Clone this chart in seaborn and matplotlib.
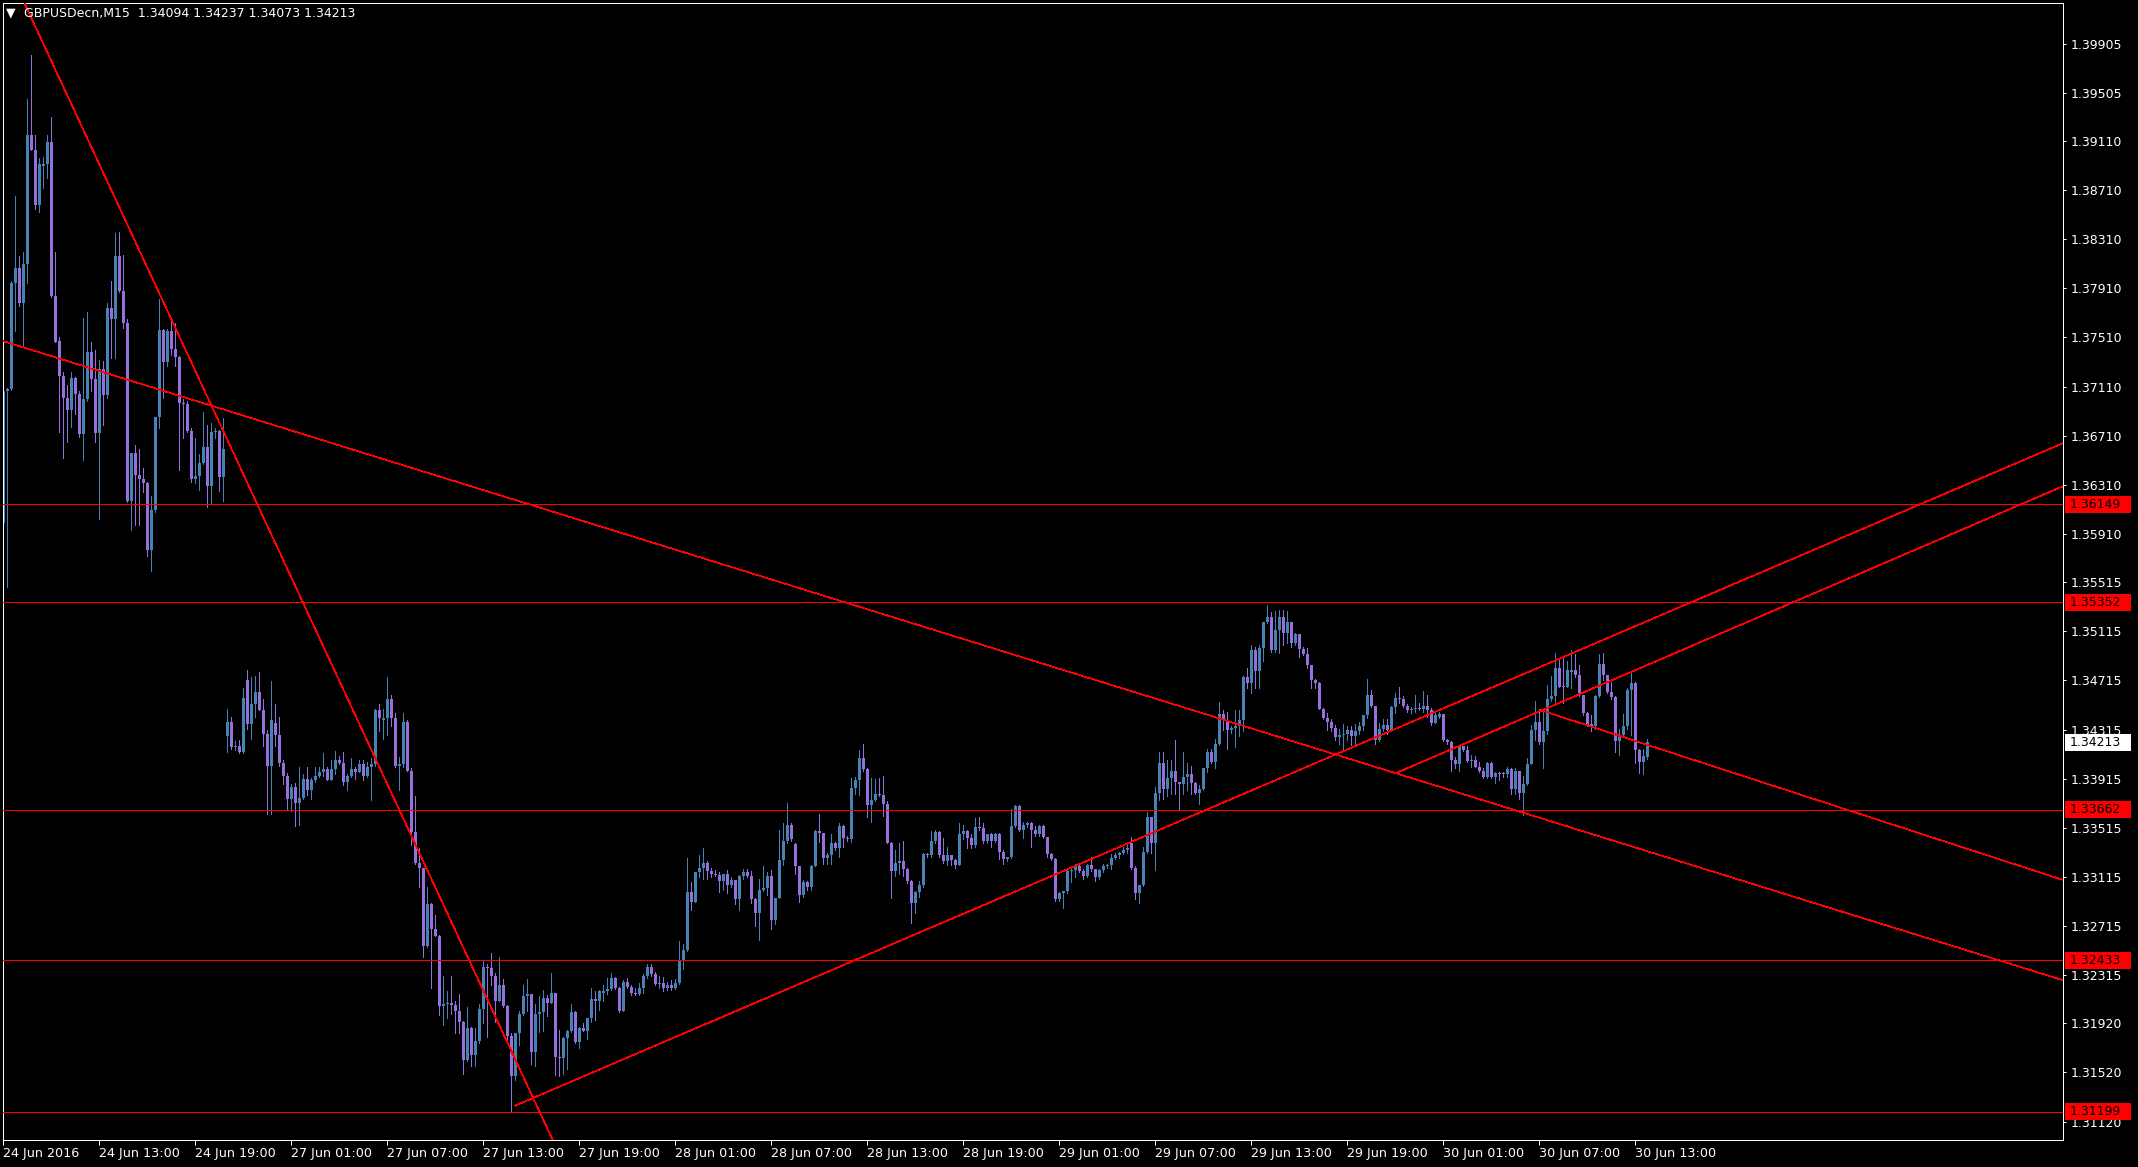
import numpy as np
import pandas as pd
import seaborn as sns
import matplotlib
matplotlib.use("Agg")
import matplotlib.pyplot as plt
import matplotlib.patches as mpatches
import matplotlib.transforms as mtransforms

# GBPUSD M15 candles, one per bar, 24 Jun 2016 07:00 -> 30 Jun 2016 13:45
# values are pips above 1.0000  (price = 1 + value / 10000)
open_pips = [
    3600, 3707, 3709, 3795, 3808, 3779, 3811, 3916, 3904, 3859,
    3891, 3892, 3910, 3785, 3748, 3720, 3702, 3692, 3718, 3705,
    3672, 3701, 3739, 3717, 3673, 3725, 3704, 3775, 3766, 3817,
    3789, 3763, 3618, 3657, 3639, 3636, 3632, 3578, 3610, 3686,
    3757, 3731, 3756, 3742, 3735, 3698, 3697, 3675, 3636, 3638,
    3649, 3662, 3630, 3674, 3675, 3637, 3426, 3438, 3417, 3418,
    3413, 3472, 3436, 3452, 3462, 3447, 3428, 3402, 3437, 3427,
    3404, 3394, 3375, 3385, 3372, 3376, 3391, 3382, 3390, 3394,
    3397, 3399, 3390, 3399, 3407, 3404, 3389, 3394, 3399, 3397,
    3403, 3394, 3401, 3403, 3447, 3439, 3441, 3456, 3441, 3402,
    3403, 3438, 3398, 3348, 3323, 3319, 3255, 3289, 3269, 3263,
    3206, 3208, 3209, 3207, 3202, 3193, 3162, 3188, 3166, 3178,
    3204, 3238, 3237, 3231, 3210, 3223, 3206, 3182, 3149, 3184,
    3200, 3214, 3216, 3169, 3200, 3201, 3213, 3209, 3217, 3165,
    3164, 3180, 3186, 3201, 3177, 3188, 3186, 3196, 3212, 3210,
    3217, 3218, 3220, 3229, 3221, 3202, 3226, 3222, 3217, 3216,
    3221, 3231, 3238, 3232, 3224, 3225, 3221, 3223, 3221, 3225,
    3244, 3252, 3299, 3291, 3315, 3319, 3323, 3316, 3314, 3313,
    3308, 3314, 3305, 3309, 3293, 3312, 3315, 3312, 3293, 3282,
    3301, 3302, 3312, 3276, 3294, 3325, 3341, 3354, 3338, 3320,
    3297, 3307, 3303, 3320, 3349, 3347, 3327, 3329, 3339, 3335,
    3353, 3343, 3342, 3384, 3390, 3408, 3399, 3370, 3374, 3379,
    3378, 3371, 3339, 3316, 3323, 3324, 3318, 3308, 3290, 3299,
    3305, 3330, 3329, 3341, 3348, 3329, 3324, 3329, 3325, 3321,
    3346, 3349, 3343, 3337, 3352, 3351, 3341, 3346, 3341, 3346,
    3332, 3326, 3328, 3353, 3369, 3350, 3354, 3355, 3350, 3346,
    3353, 3344, 3330, 3326, 3293, 3298, 3300, 3316, 3317, 3320,
    3316, 3312, 3321, 3318, 3311, 3317, 3320, 3321, 3327, 3329,
    3331, 3333, 3339, 3319, 3298, 3305, 3332, 3360, 3339, 3380,
    3404, 3383, 3392, 3398, 3389, 3387, 3393, 3395, 3388, 3380,
    3383, 3400, 3413, 3405, 3420, 3444, 3439, 3431, 3433, 3434,
    3439, 3474, 3469, 3496, 3479, 3498, 3519, 3523, 3496, 3513,
    3523, 3510, 3519, 3502, 3509, 3497, 3493, 3484, 3472, 3469,
    3448, 3441, 3438, 3433, 3425, 3427, 3428, 3431, 3426, 3430,
    3434, 3443, 3460, 3451, 3423, 3432, 3435, 3431, 3450, 3457,
    3456, 3451, 3447, 3448, 3449, 3448, 3451, 3447, 3437, 3442,
    3444, 3423, 3421, 3407, 3403, 3418, 3415, 3406, 3407, 3401,
    3398, 3393, 3404, 3393, 3396, 3396, 3395, 3399, 3383, 3398,
    3380, 3387, 3403, 3431, 3438, 3421, 3430, 3456, 3459, 3482,
    3467, 3466, 3478, 3480, 3476, 3460, 3445, 3436, 3434, 3459,
    3485, 3476, 3462, 3458, 3422, 3427, 3434, 3464, 3469, 3415,
    3405, 3409.4,
]
high_pips = [
    3710, 3710, 3797, 3866, 3817, 3821, 3945, 3981, 3916, 3897,
    3898, 3916, 3931, 3821, 3751, 3723, 3712, 3723, 3719, 3707,
    3767, 3772, 3747, 3741, 3733, 3732, 3779, 3797, 3836, 3837,
    3818, 3766, 3657, 3663, 3660, 3645, 3633, 3622, 3686, 3782,
    3758, 3758, 3764, 3763, 3736, 3701, 3699, 3677, 3669, 3656,
    3690, 3680, 3681, 3677, 3676, 3685, 3448, 3442, 3422, 3423,
    3465, 3480, 3474, 3475, 3478, 3456, 3431, 3471, 3452, 3442,
    3407, 3396, 3387, 3388, 3401, 3395, 3401, 3392, 3401, 3401,
    3412, 3401, 3407, 3414, 3410, 3413, 3395, 3408, 3401, 3407,
    3407, 3405, 3408, 3448, 3452, 3448, 3474, 3460, 3445, 3409,
    3445, 3439, 3400, 3377, 3335, 3319, 3303, 3290, 3280, 3264,
    3231, 3218, 3231, 3210, 3216, 3194, 3205, 3189, 3188, 3208,
    3243, 3240, 3249, 3233, 3246, 3228, 3207, 3184, 3184, 3202,
    3223, 3228, 3216, 3208, 3214, 3219, 3215, 3233, 3217, 3187,
    3181, 3187, 3208, 3202, 3189, 3192, 3196, 3221, 3218, 3219,
    3223, 3229, 3233, 3230, 3222, 3227, 3229, 3223, 3221, 3225,
    3232, 3240, 3240, 3234, 3231, 3230, 3226, 3227, 3228, 3259,
    3257, 3327, 3307, 3315, 3329, 3335, 3324, 3319, 3317, 3315,
    3314, 3317, 3311, 3309, 3313, 3318, 3318, 3316, 3294, 3310,
    3320, 3315, 3317, 3294, 3350, 3355, 3372, 3355, 3339, 3320,
    3309, 3308, 3321, 3350, 3363, 3347, 3331, 3346, 3340, 3355,
    3354, 3345, 3392, 3393, 3415, 3420, 3400, 3392, 3391, 3392,
    3394, 3373, 3340, 3333, 3339, 3341, 3319, 3309, 3300, 3308,
    3331, 3331, 3349, 3350, 3349, 3343, 3336, 3329, 3326, 3355,
    3354, 3350, 3346, 3359, 3360, 3355, 3346, 3347, 3347, 3347,
    3333, 3328, 3367, 3370, 3370, 3356, 3356, 3356, 3353, 3354,
    3354, 3344, 3331, 3327, 3299, 3300, 3317, 3320, 3322, 3322,
    3318, 3322, 3328, 3318, 3318, 3322, 3322, 3330, 3331, 3332,
    3336, 3337, 3344, 3320, 3305, 3336, 3364, 3360, 3385, 3413,
    3413, 3407, 3407, 3423, 3389, 3413, 3404, 3402, 3389, 3386,
    3400, 3416, 3416, 3424, 3454, 3447, 3446, 3434, 3447, 3447,
    3475, 3482, 3500, 3499, 3500, 3519, 3533, 3527, 3528, 3529,
    3529, 3528, 3519, 3510, 3509, 3499, 3498, 3484, 3473, 3470,
    3449, 3445, 3440, 3435, 3432, 3436, 3434, 3434, 3436, 3438,
    3443, 3473, 3464, 3451, 3437, 3440, 3440, 3451, 3461, 3466,
    3459, 3452, 3450, 3460, 3453, 3463, 3460, 3449, 3446, 3446,
    3444, 3424, 3422, 3409, 3418, 3418, 3418, 3411, 3410, 3405,
    3400, 3405, 3405, 3397, 3397, 3397, 3401, 3400, 3400, 3398,
    3394, 3408, 3435, 3455, 3448, 3447, 3468, 3475, 3494, 3490,
    3490, 3487, 3496, 3493, 3484, 3460, 3446, 3443, 3460, 3493,
    3494, 3476, 3470, 3459, 3432, 3444, 3465, 3478, 3470, 3416,
    3416, 3423.7,
]
low_pips = [
    3598, 3548, 3708, 3756, 3777, 3745, 3795, 3904, 3856, 3853,
    3873, 3881, 3784, 3747, 3674, 3653, 3666, 3678, 3689, 3670,
    3651, 3699, 3707, 3666, 3603, 3680, 3702, 3734, 3734, 3788,
    3759, 3617, 3594, 3598, 3598, 3625, 3573, 3561, 3609, 3677,
    3702, 3728, 3737, 3728, 3643, 3669, 3674, 3633, 3632, 3627,
    3648, 3613, 3616, 3669, 3626, 3618, 3413, 3416, 3415, 3412,
    3412, 3432, 3424, 3442, 3447, 3418, 3363, 3363, 3418, 3402,
    3387, 3366, 3365, 3353, 3354, 3375, 3378, 3375, 3389, 3393,
    3394, 3390, 3390, 3395, 3403, 3386, 3382, 3393, 3391, 3397,
    3390, 3393, 3374, 3402, 3430, 3424, 3427, 3434, 3401, 3382,
    3401, 3398, 3337, 3322, 3303, 3246, 3254, 3221, 3263, 3199,
    3191, 3196, 3200, 3184, 3184, 3151, 3161, 3157, 3157, 3176,
    3192, 3181, 3223, 3193, 3210, 3205, 3176, 3120, 3146, 3174,
    3199, 3202, 3159, 3157, 3185, 3186, 3198, 3209, 3150, 3149,
    3151, 3155, 3185, 3176, 3172, 3186, 3179, 3193, 3195, 3203,
    3210, 3216, 3219, 3220, 3201, 3202, 3221, 3215, 3215, 3215,
    3217, 3229, 3231, 3223, 3221, 3218, 3219, 3219, 3220, 3224,
    3236, 3251, 3284, 3291, 3311, 3310, 3310, 3311, 3312, 3299,
    3301, 3298, 3303, 3289, 3284, 3310, 3311, 3290, 3271, 3260,
    3300, 3297, 3269, 3273, 3294, 3321, 3339, 3341, 3314, 3291,
    3295, 3301, 3301, 3320, 3340, 3322, 3322, 3322, 3333, 3328,
    3336, 3341, 3340, 3379, 3378, 3398, 3360, 3356, 3373, 3377,
    3361, 3339, 3294, 3312, 3314, 3312, 3306, 3274, 3282, 3295,
    3303, 3328, 3328, 3339, 3328, 3323, 3321, 3321, 3319, 3321,
    3342, 3335, 3335, 3336, 3350, 3339, 3339, 3336, 3340, 3326,
    3322, 3324, 3327, 3352, 3349, 3343, 3352, 3336, 3345, 3345,
    3343, 3328, 3325, 3292, 3292, 3286, 3298, 3307, 3311, 3315,
    3310, 3311, 3316, 3308, 3310, 3315, 3319, 3318, 3326, 3327,
    3330, 3331, 3318, 3293, 3290, 3304, 3331, 3331, 3317, 3374,
    3375, 3377, 3379, 3379, 3366, 3379, 3382, 3379, 3379, 3371,
    3382, 3397, 3404, 3400, 3419, 3431, 3416, 3429, 3417, 3426,
    3430, 3465, 3461, 3465, 3465, 3487, 3518, 3495, 3495, 3494,
    3500, 3502, 3499, 3500, 3491, 3492, 3482, 3465, 3465, 3448,
    3440, 3431, 3430, 3423, 3420, 3415, 3423, 3419, 3419, 3428,
    3431, 3441, 3450, 3420, 3422, 3430, 3428, 3430, 3445, 3453,
    3450, 3446, 3445, 3446, 3447, 3446, 3442, 3435, 3437, 3441,
    3422, 3420, 3398, 3400, 3398, 3414, 3405, 3401, 3401, 3397,
    3392, 3392, 3392, 3388, 3390, 3393, 3393, 3379, 3379, 3375,
    3362, 3386, 3403, 3423, 3420, 3400, 3428, 3455, 3454, 3466,
    3453, 3466, 3465, 3474, 3459, 3443, 3434, 3430, 3432, 3458,
    3472, 3461, 3456, 3413, 3411, 3426, 3432, 3427, 3404, 3396,
    3395, 3407.3,
]
close_pips = [
    3707, 3709, 3795, 3808, 3779, 3811, 3916, 3904, 3859, 3892,
    3892, 3910, 3785, 3747, 3720, 3702, 3692, 3718, 3705, 3672,
    3701, 3739, 3717, 3673, 3725, 3704, 3775, 3766, 3817, 3789,
    3763, 3618, 3657, 3639, 3636, 3632, 3578, 3610, 3686, 3757,
    3731, 3756, 3742, 3735, 3698, 3697, 3675, 3636, 3638, 3649,
    3662, 3630, 3674, 3675, 3637, 3660, 3438, 3417, 3418, 3413,
    3457, 3436, 3452, 3462, 3447, 3428, 3402, 3439, 3427, 3404,
    3394, 3375, 3385, 3372, 3376, 3391, 3382, 3390, 3394, 3397,
    3399, 3390, 3399, 3407, 3404, 3389, 3394, 3399, 3397, 3403,
    3394, 3401, 3403, 3447, 3441, 3441, 3456, 3441, 3402, 3403,
    3438, 3398, 3348, 3323, 3319, 3255, 3289, 3269, 3263, 3206,
    3208, 3209, 3207, 3202, 3193, 3162, 3188, 3166, 3178, 3204,
    3238, 3237, 3231, 3210, 3223, 3206, 3182, 3149, 3184, 3200,
    3214, 3216, 3169, 3200, 3201, 3213, 3209, 3217, 3165, 3164,
    3180, 3186, 3201, 3177, 3188, 3186, 3196, 3212, 3210, 3218,
    3218, 3220, 3229, 3221, 3202, 3226, 3222, 3217, 3216, 3221,
    3231, 3238, 3232, 3224, 3225, 3221, 3223, 3221, 3225, 3244,
    3252, 3299, 3291, 3315, 3319, 3323, 3316, 3314, 3313, 3308,
    3314, 3305, 3309, 3293, 3312, 3315, 3312, 3293, 3282, 3301,
    3302, 3312, 3276, 3294, 3325, 3341, 3354, 3342, 3320, 3297,
    3307, 3303, 3320, 3349, 3347, 3327, 3329, 3339, 3335, 3353,
    3343, 3342, 3384, 3390, 3408, 3399, 3370, 3374, 3379, 3378,
    3371, 3339, 3316, 3323, 3324, 3318, 3308, 3290, 3299, 3305,
    3330, 3329, 3341, 3348, 3329, 3324, 3329, 3325, 3321, 3346,
    3349, 3343, 3337, 3352, 3351, 3341, 3346, 3341, 3346, 3332,
    3326, 3328, 3353, 3369, 3350, 3354, 3355, 3350, 3346, 3353,
    3344, 3330, 3326, 3293, 3298, 3300, 3316, 3317, 3320, 3316,
    3312, 3321, 3318, 3311, 3317, 3320, 3321, 3327, 3329, 3331,
    3333, 3335, 3319, 3298, 3305, 3332, 3360, 3339, 3380, 3404,
    3383, 3392, 3398, 3389, 3387, 3393, 3395, 3388, 3380, 3383,
    3400, 3413, 3405, 3420, 3444, 3439, 3431, 3433, 3434, 3439,
    3474, 3469, 3496, 3479, 3498, 3519, 3523, 3496, 3513, 3523,
    3510, 3519, 3502, 3509, 3497, 3493, 3484, 3472, 3469, 3448,
    3441, 3438, 3433, 3425, 3427, 3428, 3431, 3426, 3430, 3434,
    3443, 3460, 3451, 3423, 3432, 3435, 3431, 3450, 3457, 3456,
    3451, 3447, 3448, 3449, 3448, 3451, 3447, 3437, 3443, 3444,
    3423, 3421, 3407, 3403, 3418, 3415, 3406, 3407, 3401, 3398,
    3393, 3404, 3393, 3396, 3395, 3395, 3399, 3383, 3398, 3380,
    3387, 3403, 3431, 3438, 3421, 3430, 3456, 3459, 3482, 3466,
    3466, 3480, 3480, 3476, 3460, 3445, 3435, 3434, 3459, 3485,
    3476, 3462, 3458, 3422, 3427, 3434, 3464, 3469, 3415, 3405,
    3410, 3421.3,
]

# one time label every 24 bars (6 hours of M15)
time_labels = [
    "24 Jun 2016", "24 Jun 13:00", "24 Jun 19:00", "27 Jun 01:00",
    "27 Jun 07:00", "27 Jun 13:00", "27 Jun 19:00", "28 Jun 01:00",
    "28 Jun 07:00", "28 Jun 13:00", "28 Jun 19:00", "29 Jun 01:00",
    "29 Jun 07:00", "29 Jun 13:00", "29 Jun 19:00", "30 Jun 01:00",
    "30 Jun 07:00", "30 Jun 13:00",
]
bars_per_label = 24

price_ticks = [
    1.39905, 1.39505, 1.39110, 1.38710, 1.38310, 1.37910, 1.37510, 1.37110,
    1.36710, 1.36310, 1.35910, 1.35515, 1.35115, 1.34715, 1.34315, 1.33915,
    1.33515, 1.33115, 1.32715, 1.32315, 1.31920, 1.31520, 1.31120,
]

# horizontal levels and the last price
level_prices = [1.36149, 1.35352, 1.33662, 1.32433, 1.31199]
last_price = 1.34213

# trend lines as (start bar, start price, end bar, end price)
trend_lines = [
    (0.0, 1.40606, 140.0, 1.30783),
    (0.0, 1.37480, 515.0, 1.32271),
    (384.2, 1.34474, 515.0, 1.33088),
    (127.9, 1.31249, 515.0, 1.36650),
    (348.4, 1.33963, 515.0, 1.36299),
]

header = "GBPUSDecn,M15  1.34094 1.34237 1.34073 1.34213"

BULL = "#4682b4"
BEAR = "#9370db"
RED = "#ff0000"
FG = "white"
PX = 0.72  # one pixel in points at 100 dpi

sns.set_theme(style="dark", rc={"axes.facecolor": "black", "figure.facecolor": "black"})
plt.rcParams["font.family"] = ["DejaVu Sans"]

W, H = 2138, 1167
fig = plt.figure(figsize=(W / 100, H / 100), dpi=100)
fig.patch.set_facecolor("black")
ax = fig.add_axes([3 / W, (H - 1140) / H, 2060 / W, 1137 / H])
ax.set_facecolor("black")

df = pd.DataFrame({"open": open_pips, "high": high_pips,
                   "low": low_pips, "close": close_pips}) / 10000 + 1
df["bar"] = np.arange(len(df))
df["color"] = np.where(df["close"] >= df["open"], BULL, BEAR)

# candles: wick + body
ax.vlines(df["bar"], df["low"], df["high"], colors=df["color"],
          linewidth=PX, antialiased=False, zorder=2)
body_bottom = df[["open", "close"]].min(axis=1)
body_height = (df["close"] - df["open"]).abs().clip(lower=0.00006)
ax.bar(df["bar"], body_height, bottom=body_bottom, width=0.8,
       color=df["color"], linewidth=0, antialiased=False, zorder=2)

for p in level_prices:
    ax.axhline(p, color=RED, linewidth=PX, antialiased=False, zorder=3)

for b1, p1, b2, p2 in trend_lines:
    ax.plot([b1, b2], [p1, p2], color=RED, linewidth=0.5,
            antialiased=False, zorder=3, solid_capstyle="butt")

ax.set_xlim(-0.075, 514.925)
ax.set_ylim(1.309695, 1.40236)
ax.set_xlabel("")
ax.set_ylabel("")
ax.grid(False)

ax.set_xticks(np.arange(len(time_labels)) * bars_per_label)
ax.set_xticklabels(time_labels, ha="left")
ax.yaxis.tick_right()
ax.set_yticks(price_ticks)
ax.set_yticklabels([f"{v:.5f}" for v in price_ticks])
ax.tick_params(axis="x", bottom=True, direction="out", length=3.6, width=PX,
               colors=FG, labelsize=9.2, pad=1.5)
ax.tick_params(axis="y", right=True, left=False, direction="out", length=2.2,
               width=PX, colors=FG, labelsize=9, pad=3)
for s in ax.spines.values():
    s.set_visible(True)
    s.set_color(FG)
    s.set_linewidth(PX)

# price tags on the right scale
trans = mtransforms.blended_transform_factory(ax.transAxes, ax.transData)
ylo, yhi = ax.get_ylim()
tag_h = 17 * (yhi - ylo) / 1137


def price_tag(value, face):
    ax.add_patch(mpatches.Rectangle((1 + 2 / 2060, value - tag_h / 2), 66 / 2060, tag_h,
                                    transform=trans, facecolor=face, edgecolor="none",
                                    clip_on=False, zorder=6))
    ax.text(1 + 7 / 2060, value, f"{value:.5f}", transform=trans, ha="left",
            va="center", color="black", fontsize=9, zorder=7, clip_on=False)


for p in level_prices:
    price_tag(p, RED)
price_tag(last_price, "white")

fig.text(6 / W, 1 - 13 / H, "\u25bc", color=FG, fontsize=9, ha="left", va="center")
fig.text(24 / W, 1 - 14 / H, header, color=FG, fontsize=9, ha="left", va="center")

fig.savefig("out.png", dpi=100, facecolor="black")
